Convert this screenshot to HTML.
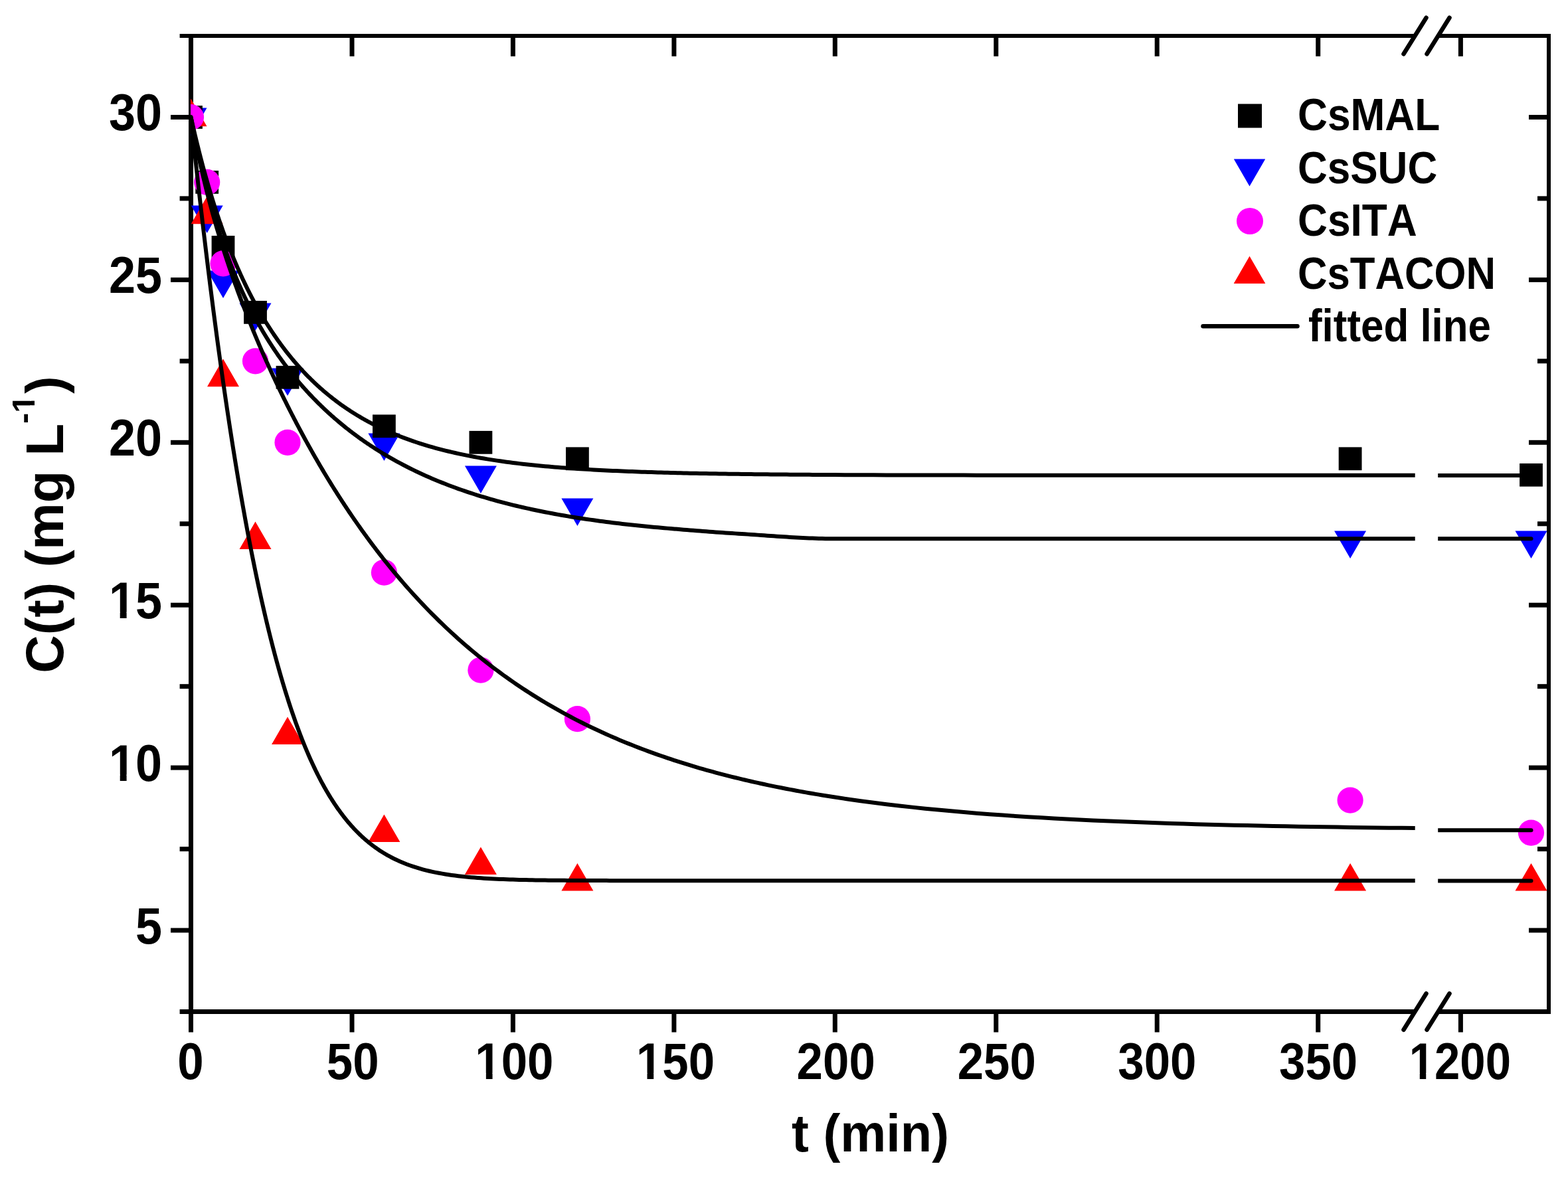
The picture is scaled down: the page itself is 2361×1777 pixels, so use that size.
<!DOCTYPE html><html><head><meta charset="utf-8"><style>html,body{margin:0;padding:0;background:#fff;overflow:hidden}svg{display:block}</style></head><body><svg width="2361" height="1777" viewBox="0 0 2361 1777">
<defs><clipPath id="pc"><rect x="287" y="0" width="2100" height="1777"/></clipPath><clipPath id="s1"><rect x="280" y="0" width="1850.7" height="1777"/></clipPath><clipPath id="s2"><rect x="2165.2" y="0" width="200" height="1777"/></clipPath></defs>
<rect width="2361" height="1777" fill="#fff"/>
<line x1="287.5" y1="51" x2="287.5" y2="1527" stroke="#000" stroke-width="7"/>
<line x1="2332" y1="51" x2="2332" y2="1527" stroke="#000" stroke-width="6"/>
<line x1="271" y1="54" x2="2130.7" y2="54" stroke="#000" stroke-width="6"/>
<line x1="2165.2" y1="54" x2="2335" y2="54" stroke="#000" stroke-width="6"/>
<line x1="271" y1="1523.5" x2="2130.7" y2="1523.5" stroke="#000" stroke-width="7"/>
<line x1="2165.2" y1="1523.5" x2="2335" y2="1523.5" stroke="#000" stroke-width="7"/>
<line x1="257" y1="1401.0" x2="285" y2="1401.0" stroke="#000" stroke-width="7"/>
<line x1="2302" y1="1401.0" x2="2331" y2="1401.0" stroke="#000" stroke-width="7"/>
<line x1="257" y1="1156.1" x2="285" y2="1156.1" stroke="#000" stroke-width="7"/>
<line x1="2302" y1="1156.1" x2="2331" y2="1156.1" stroke="#000" stroke-width="7"/>
<line x1="257" y1="911.2" x2="285" y2="911.2" stroke="#000" stroke-width="7"/>
<line x1="2302" y1="911.2" x2="2331" y2="911.2" stroke="#000" stroke-width="7"/>
<line x1="257" y1="666.3" x2="285" y2="666.3" stroke="#000" stroke-width="7"/>
<line x1="2302" y1="666.3" x2="2331" y2="666.3" stroke="#000" stroke-width="7"/>
<line x1="257" y1="421.4" x2="285" y2="421.4" stroke="#000" stroke-width="7"/>
<line x1="2302" y1="421.4" x2="2331" y2="421.4" stroke="#000" stroke-width="7"/>
<line x1="257" y1="176.5" x2="285" y2="176.5" stroke="#000" stroke-width="7"/>
<line x1="2302" y1="176.5" x2="2331" y2="176.5" stroke="#000" stroke-width="7"/>
<line x1="270.6" y1="1523.5" x2="285" y2="1523.5" stroke="#000" stroke-width="7"/>
<line x1="270.6" y1="1278.6" x2="285" y2="1278.6" stroke="#000" stroke-width="7"/>
<line x1="2315" y1="1278.6" x2="2331" y2="1278.6" stroke="#000" stroke-width="7"/>
<line x1="270.6" y1="1033.7" x2="285" y2="1033.7" stroke="#000" stroke-width="7"/>
<line x1="2315" y1="1033.7" x2="2331" y2="1033.7" stroke="#000" stroke-width="7"/>
<line x1="270.6" y1="788.8" x2="285" y2="788.8" stroke="#000" stroke-width="7"/>
<line x1="2315" y1="788.8" x2="2331" y2="788.8" stroke="#000" stroke-width="7"/>
<line x1="270.6" y1="543.8" x2="285" y2="543.8" stroke="#000" stroke-width="7"/>
<line x1="2315" y1="543.8" x2="2331" y2="543.8" stroke="#000" stroke-width="7"/>
<line x1="270.6" y1="298.9" x2="285" y2="298.9" stroke="#000" stroke-width="7"/>
<line x1="2315" y1="298.9" x2="2331" y2="298.9" stroke="#000" stroke-width="7"/>
<line x1="270.6" y1="54.0" x2="285" y2="54.0" stroke="#000" stroke-width="6"/>
<line x1="287.5" y1="1526" x2="287.5" y2="1554.5" stroke="#000" stroke-width="7"/>
<line x1="530.0" y1="1526" x2="530.0" y2="1554.5" stroke="#000" stroke-width="7"/>
<line x1="530.0" y1="56" x2="530.0" y2="84.8" stroke="#000" stroke-width="7"/>
<line x1="772.4" y1="1526" x2="772.4" y2="1554.5" stroke="#000" stroke-width="7"/>
<line x1="772.4" y1="56" x2="772.4" y2="84.8" stroke="#000" stroke-width="7"/>
<line x1="1014.9" y1="1526" x2="1014.9" y2="1554.5" stroke="#000" stroke-width="7"/>
<line x1="1014.9" y1="56" x2="1014.9" y2="84.8" stroke="#000" stroke-width="7"/>
<line x1="1257.3" y1="1526" x2="1257.3" y2="1554.5" stroke="#000" stroke-width="7"/>
<line x1="1257.3" y1="56" x2="1257.3" y2="84.8" stroke="#000" stroke-width="7"/>
<line x1="1499.8" y1="1526" x2="1499.8" y2="1554.5" stroke="#000" stroke-width="7"/>
<line x1="1499.8" y1="56" x2="1499.8" y2="84.8" stroke="#000" stroke-width="7"/>
<line x1="1742.2" y1="1526" x2="1742.2" y2="1554.5" stroke="#000" stroke-width="7"/>
<line x1="1742.2" y1="56" x2="1742.2" y2="84.8" stroke="#000" stroke-width="7"/>
<line x1="1984.7" y1="1526" x2="1984.7" y2="1554.5" stroke="#000" stroke-width="7"/>
<line x1="1984.7" y1="56" x2="1984.7" y2="84.8" stroke="#000" stroke-width="7"/>
<line x1="2199.4" y1="1526" x2="2199.4" y2="1554.5" stroke="#000" stroke-width="7"/>
<line x1="2199.4" y1="56" x2="2199.4" y2="84.8" stroke="#000" stroke-width="7"/>
<line x1="2113.5" y1="81.3" x2="2147.5" y2="26.7" stroke="#000" stroke-width="6.5" stroke-linecap="round"/>
<line x1="2113.5" y1="1550.8" x2="2147.5" y2="1496.2" stroke="#000" stroke-width="6.5" stroke-linecap="round"/>
<line x1="2148.5" y1="81.3" x2="2182.5" y2="26.7" stroke="#000" stroke-width="6.5" stroke-linecap="round"/>
<line x1="2148.5" y1="1550.8" x2="2182.5" y2="1496.2" stroke="#000" stroke-width="6.5" stroke-linecap="round"/>
<g clip-path="url(#pc)"><polygon points="263.5,162.6 311.5,162.6 287.5,204.2" fill="#00f"/><polygon points="287.7,309.6 335.7,309.6 311.7,351.1" fill="#00f"/><polygon points="312.0,407.5 360.0,407.5 336.0,449.1" fill="#00f"/><polygon points="360.5,456.5 408.5,456.5 384.5,498.1" fill="#00f"/><polygon points="409.0,554.5 457.0,554.5 433.0,596.0" fill="#00f"/><polygon points="554.4,652.4 602.4,652.4 578.4,694.0" fill="#00f"/><polygon points="699.9,701.4 747.9,701.4 723.9,743.0" fill="#00f"/><polygon points="845.4,750.4 893.4,750.4 869.4,792.0" fill="#00f"/><polygon points="2009.1,799.4 2057.1,799.4 2033.1,841.0" fill="#00f"/><polygon points="2281.5,799.4 2329.5,799.4 2305.5,841.0" fill="#00f"/><rect x="270.1" y="159.1" width="34.8" height="34.8" fill="#000"/><rect x="294.3" y="257.0" width="34.8" height="34.8" fill="#000"/><rect x="318.6" y="355.0" width="34.8" height="34.8" fill="#000"/><rect x="367.1" y="453.0" width="34.8" height="34.8" fill="#000"/><rect x="415.6" y="550.9" width="34.8" height="34.8" fill="#000"/><rect x="561.0" y="624.4" width="34.8" height="34.8" fill="#000"/><rect x="706.5" y="648.9" width="34.8" height="34.8" fill="#000"/><rect x="852.0" y="673.4" width="34.8" height="34.8" fill="#000"/><rect x="2015.7" y="673.4" width="34.8" height="34.8" fill="#000"/><rect x="2288.1" y="697.9" width="34.8" height="34.8" fill="#000"/><polygon points="263.5,190.3 311.5,190.3 287.5,148.8" fill="#f00"/><polygon points="287.7,337.3 335.7,337.3 311.7,295.7" fill="#f00"/><polygon points="312.0,582.2 360.0,582.2 336.0,540.6" fill="#f00"/><polygon points="360.5,827.1 408.5,827.1 384.5,785.5" fill="#f00"/><polygon points="409.0,1121.0 457.0,1121.0 433.0,1079.4" fill="#f00"/><polygon points="554.4,1267.9 602.4,1267.9 578.4,1226.4" fill="#f00"/><polygon points="699.9,1316.9 747.9,1316.9 723.9,1275.4" fill="#f00"/><polygon points="845.4,1341.4 893.4,1341.4 869.4,1299.9" fill="#f00"/><polygon points="2009.1,1341.4 2057.1,1341.4 2033.1,1299.9" fill="#f00"/><polygon points="2281.5,1341.4 2329.5,1341.4 2305.5,1299.9" fill="#f00"/><circle cx="287.5" cy="176.5" r="19.6" fill="#f0f"/><circle cx="311.7" cy="274.4" r="19.6" fill="#f0f"/><circle cx="336.0" cy="396.9" r="19.6" fill="#f0f"/><circle cx="384.5" cy="543.8" r="19.6" fill="#f0f"/><circle cx="433.0" cy="666.3" r="19.6" fill="#f0f"/><circle cx="578.4" cy="862.2" r="19.6" fill="#f0f"/><circle cx="723.9" cy="1009.2" r="19.6" fill="#f0f"/><circle cx="869.4" cy="1082.7" r="19.6" fill="#f0f"/><circle cx="2033.1" cy="1205.1" r="19.6" fill="#f0f"/><circle cx="2305.5" cy="1254.1" r="19.6" fill="#f0f"/></g>
<polyline clip-path="url(#s1)" points="287.50,176.31 288.71,181.76 289.92,187.14 291.14,192.44 292.35,197.68 293.56,202.84 294.77,207.94 295.99,212.97 297.20,217.94 298.41,222.84 299.62,227.68 300.83,232.46 302.05,237.18 303.26,241.84 304.47,246.44 305.68,250.98 306.90,255.47 308.11,259.90 309.32,264.27 310.53,268.60 311.75,272.86 312.96,277.08 314.17,281.25 315.38,285.36 316.59,289.43 317.81,293.45 319.02,297.42 320.23,301.34 321.44,305.22 322.66,309.05 323.87,312.84 325.08,316.59 326.29,320.29 327.50,323.95 328.72,327.56 329.93,331.14 331.14,334.67 332.35,338.17 333.57,341.62 334.78,345.04 335.99,348.42 337.20,351.76 338.41,355.06 339.63,358.33 340.84,361.56 342.05,364.76 343.26,367.92 344.48,371.05 345.69,374.14 346.90,377.20 348.11,380.23 349.32,383.23 350.54,386.19 351.75,389.12 352.96,392.02 354.17,394.90 355.39,397.74 356.60,400.55 357.81,403.33 359.02,406.08 360.24,408.81 361.45,411.51 362.66,414.17 363.87,416.82 365.08,419.43 366.30,422.02 367.51,424.58 368.72,427.12 369.93,429.63 371.15,432.12 372.36,434.58 373.57,437.02 374.78,439.43 375.99,441.82 377.21,444.18 378.42,446.52 379.63,448.84 380.84,451.14 382.06,453.41 383.27,455.67 384.48,457.90 385.69,460.11 386.90,462.29 388.12,464.46 389.33,466.61 390.54,468.73 391.75,470.84 392.97,472.92 394.18,474.99 395.39,477.03 396.60,479.06 397.81,481.07 399.03,483.05 400.24,485.02 401.45,486.98 402.66,488.91 403.88,490.82 405.09,492.72 406.30,494.60 407.51,496.46 408.73,498.31 409.94,500.14 411.15,501.95 412.36,503.75 413.57,505.52 414.79,507.29 416.00,509.03 417.21,510.76 418.42,512.48 419.64,514.18 420.85,515.86 422.06,517.53 423.27,519.19 424.48,520.83 425.70,522.45 426.91,524.06 428.12,525.66 429.33,527.24 430.55,528.81 431.76,530.36 432.97,531.90 434.18,533.42 435.39,534.94 436.61,536.44 437.82,537.92 439.03,539.39 440.24,540.85 441.46,542.30 442.67,543.74 443.88,545.16 445.09,546.57 446.30,547.96 447.52,549.35 448.73,550.72 449.94,552.08 451.15,553.43 452.37,554.77 453.58,556.10 454.79,557.41 456.00,558.71 457.22,560.01 458.43,561.29 459.64,562.56 460.85,563.82 462.06,565.06 463.28,566.30 464.49,567.53 465.70,568.74 466.91,569.95 468.13,571.14 469.34,572.33 470.55,573.51 471.76,574.67 472.97,575.83 474.19,576.97 475.40,578.11 476.61,579.23 477.82,580.35 479.04,581.46 480.25,582.56 481.46,583.64 482.67,584.72 483.88,585.79 485.10,586.85 486.31,587.91 487.52,588.95 488.73,589.98 489.95,591.01 491.16,592.03 492.37,593.04 493.58,594.04 494.79,595.03 496.01,596.01 497.22,596.99 498.43,597.96 499.64,598.92 500.86,599.87 502.07,600.81 503.28,601.74 504.49,602.67 505.71,603.59 506.92,604.50 508.13,605.41 509.34,606.31 510.55,607.20 511.77,608.08 512.98,608.95 514.19,609.82 515.40,610.68 516.62,611.54 517.83,612.38 519.04,613.22 520.25,614.05 521.46,614.88 522.68,615.70 523.89,616.51 525.10,617.31 526.31,618.11 527.53,618.91 528.74,619.69 529.95,620.47 531.16,621.24 532.37,622.01 533.59,622.77 534.80,623.52 536.01,624.27 537.22,625.01 538.44,625.75 539.65,626.48 540.86,627.20 542.07,627.92 543.28,628.63 544.50,629.33 545.71,630.03 546.92,630.73 548.13,631.41 549.35,632.10 550.56,632.77 551.77,633.45 552.98,634.11 554.19,634.77 555.41,635.43 556.62,636.08 557.83,636.72 559.04,637.36 560.26,638.00 561.47,638.62 562.68,639.25 563.89,639.87 565.11,640.48 566.32,641.09 567.53,641.69 568.74,642.29 569.95,642.89 571.17,643.47 572.38,644.06 573.59,644.64 574.80,645.21 576.02,645.78 577.23,646.35 578.44,646.91 583.29,649.11 588.14,651.23 592.99,653.29 597.84,655.29 602.68,657.22 607.53,659.08 612.38,660.89 617.23,662.64 622.08,664.33 626.93,665.97 631.78,667.56 636.63,669.10 641.48,670.59 646.33,672.03 651.17,673.42 656.02,674.77 660.87,676.08 665.72,677.34 670.57,678.56 675.42,679.75 680.27,680.90 685.12,682.01 689.97,683.08 694.82,684.13 699.66,685.13 704.51,686.11 709.36,687.06 714.21,687.97 719.06,688.86 723.91,689.71 728.76,690.54 733.61,691.35 738.46,692.13 743.31,692.88 748.15,693.61 753.00,694.32 757.85,695.00 762.70,695.66 767.55,696.30 772.40,696.92 777.25,697.52 782.10,698.11 786.95,698.67 791.80,699.22 796.64,699.74 801.49,700.25 806.34,700.75 811.19,701.23 816.04,701.69 820.89,702.14 825.74,702.58 830.59,703.00 835.44,703.41 840.29,703.80 845.13,704.18 849.98,704.55 854.83,704.91 859.68,705.26 864.53,705.60 869.38,705.92 874.23,706.24 879.08,706.54 883.93,706.84 888.78,707.12 893.62,707.40 898.47,707.67 903.32,707.93 908.17,708.18 913.02,708.42 917.87,708.66 922.72,708.88 927.57,709.10 932.42,709.32 937.27,709.53 942.12,709.73 946.96,709.92 951.81,710.11 956.66,710.29 961.51,710.47 966.36,710.64 971.21,710.80 976.06,710.96 980.91,711.12 985.76,711.27 990.61,711.41 995.45,711.55 1000.30,711.69 1005.15,711.82 1010.00,711.95 1014.85,712.07 1019.70,712.19 1024.55,712.30 1029.40,712.42 1034.25,712.53 1039.10,712.63 1043.94,712.73 1048.79,712.83 1053.64,712.93 1058.49,713.02 1063.34,713.11 1068.19,713.19 1073.04,713.28 1077.89,713.36 1082.74,713.44 1087.59,713.51 1092.43,713.59 1097.28,713.66 1102.13,713.73 1106.98,713.79 1111.83,713.86 1116.68,713.92 1121.53,713.98 1126.38,714.04 1131.23,714.10 1136.08,714.15 1140.92,714.21 1145.77,714.26 1150.62,714.31 1155.47,714.36 1160.32,714.40 1165.17,714.45 1170.02,714.49 1174.87,714.53 1179.72,714.58 1184.57,714.62 1189.41,714.65 1194.26,714.69 1199.11,714.73 1203.96,714.76 1208.81,714.80 1213.66,714.83 1218.51,714.86 1223.36,714.89 1228.21,714.92 1233.06,714.95 1237.90,714.98 1242.75,715.01 1247.60,715.03 1252.45,715.06 1257.30,715.08 1276.70,715.17 1296.09,715.25 1315.49,715.32 1334.88,715.38 1354.28,715.44 1373.68,715.48 1393.07,715.53 1412.47,715.56 1431.86,715.60 1451.26,715.62 1470.66,715.65 1490.05,715.67 1509.45,715.69 1528.84,715.71 1548.24,715.72 1567.64,715.73 1587.03,715.75 1606.43,715.76 1625.82,715.76 1645.22,715.77 1664.62,715.78 1684.01,715.79 1703.41,715.79 1722.80,715.80 1742.20,715.80 1761.60,715.80 1780.99,715.81 1800.39,715.81 1819.78,715.81 1839.18,715.81 1858.58,715.82 1877.97,715.82 1897.37,715.82 1916.76,715.82 1936.16,715.82 1955.56,715.82 1974.95,715.82 1994.35,715.82 2013.74,715.82 2033.14,715.82 2052.54,715.83 2071.93,715.83 2091.33,715.83 2110.72,715.83 2130.12,715.83 2130.60,715.83" fill="none" stroke="#000" stroke-width="6" stroke-linejoin="round" stroke-linecap="round"/>
<line x1="2160" y1="716.0" x2="2305.5" y2="716.0" clip-path="url(#s2)" stroke="#000" stroke-width="6" stroke-linecap="round"/>
<polyline clip-path="url(#s1)" points="287.50,176.30 288.71,182.61 289.92,188.81 291.14,194.92 292.35,200.92 293.56,206.83 294.77,212.65 295.99,218.37 297.20,224.01 298.41,229.55 299.62,235.01 300.83,240.39 302.05,245.68 303.26,250.89 304.47,256.02 305.68,261.08 306.90,266.06 308.11,270.96 309.32,275.79 310.53,280.55 311.75,285.25 312.96,289.87 314.17,294.42 315.38,298.91 316.59,303.34 317.81,307.70 319.02,312.00 320.23,316.24 321.44,320.43 322.66,324.55 323.87,328.62 325.08,332.63 326.29,336.59 327.50,340.49 328.72,344.34 329.93,348.14 331.14,351.89 332.35,355.59 333.57,359.24 334.78,362.85 335.99,366.40 337.20,369.92 338.41,373.38 339.63,376.81 340.84,380.19 342.05,383.53 343.26,386.82 344.48,390.08 345.69,393.30 346.90,396.47 348.11,399.61 349.32,402.71 350.54,405.78 351.75,408.81 352.96,411.80 354.17,414.76 355.39,417.68 356.60,420.57 357.81,423.43 359.02,426.25 360.24,429.05 361.45,431.81 362.66,434.54 363.87,437.24 365.08,439.91 366.30,442.55 367.51,445.16 368.72,447.75 369.93,450.31 371.15,452.84 372.36,455.34 373.57,457.82 374.78,460.27 375.99,462.69 377.21,465.10 378.42,467.47 379.63,469.82 380.84,472.15 382.06,474.46 383.27,476.74 384.48,479.00 385.69,481.24 386.90,483.46 388.12,485.65 389.33,487.82 390.54,489.98 391.75,492.11 392.97,494.22 394.18,496.31 395.39,498.39 396.60,500.44 397.81,502.47 399.03,504.49 400.24,506.49 401.45,508.47 402.66,510.43 403.88,512.37 405.09,514.30 406.30,516.21 407.51,518.10 408.73,519.98 409.94,521.84 411.15,523.69 412.36,525.51 413.57,527.33 414.79,529.12 416.00,530.91 417.21,532.67 418.42,534.43 419.64,536.17 420.85,537.89 422.06,539.60 423.27,541.29 424.48,542.98 425.70,544.64 426.91,546.30 428.12,547.94 429.33,549.57 430.55,551.18 431.76,552.79 432.97,554.38 434.18,555.96 435.39,557.52 436.61,559.08 437.82,560.62 439.03,562.15 440.24,563.67 441.46,565.17 442.67,566.67 443.88,568.15 445.09,569.62 446.30,571.09 447.52,572.54 448.73,573.98 449.94,575.41 451.15,576.83 452.37,578.24 453.58,579.64 454.79,581.03 456.00,582.40 457.22,583.77 458.43,585.13 459.64,586.48 460.85,587.82 462.06,589.15 463.28,590.47 464.49,591.79 465.70,593.09 466.91,594.38 468.13,595.67 469.34,596.94 470.55,598.21 471.76,599.47 472.97,600.72 474.19,601.96 475.40,603.19 476.61,604.42 477.82,605.63 479.04,606.84 480.25,608.04 481.46,609.23 482.67,610.42 483.88,611.60 485.10,612.76 486.31,613.92 487.52,615.08 488.73,616.22 489.95,617.36 491.16,618.49 492.37,619.62 493.58,620.73 494.79,621.84 496.01,622.94 497.22,624.04 498.43,625.12 499.64,626.21 500.86,627.28 502.07,628.35 503.28,629.41 504.49,630.46 505.71,631.51 506.92,632.55 508.13,633.58 509.34,634.61 510.55,635.63 511.77,636.64 512.98,637.65 514.19,638.65 515.40,639.65 516.62,640.64 517.83,641.62 519.04,642.60 520.25,643.57 521.46,644.53 522.68,645.49 523.89,646.45 525.10,647.40 526.31,648.34 527.53,649.27 528.74,650.20 529.95,651.13 531.16,652.05 532.37,652.96 533.59,653.87 534.80,654.77 536.01,655.67 537.22,656.56 538.44,657.45 539.65,658.33 540.86,659.20 542.07,660.07 543.28,660.94 544.50,661.80 545.71,662.65 546.92,663.50 548.13,664.35 549.35,665.19 550.56,666.02 551.77,666.85 552.98,667.68 554.19,668.50 555.41,669.32 556.62,670.13 557.83,670.93 559.04,671.73 560.26,672.53 561.47,673.32 562.68,674.11 563.89,674.89 565.11,675.67 566.32,676.44 567.53,677.21 568.74,677.98 569.95,678.74 571.17,679.49 572.38,680.24 573.59,680.99 574.80,681.73 576.02,682.47 577.23,683.20 578.44,683.93 583.29,686.81 588.14,689.62 592.99,692.37 597.84,695.06 602.68,697.68 607.53,700.25 612.38,702.75 617.23,705.20 622.08,707.60 626.93,709.94 631.78,712.23 636.63,714.47 641.48,716.66 646.33,718.80 651.17,720.90 656.02,722.94 660.87,724.94 665.72,726.90 670.57,728.82 675.42,730.69 680.27,732.52 685.12,734.31 689.97,736.06 694.82,737.77 699.66,739.44 704.51,741.08 709.36,742.68 714.21,744.25 719.06,745.78 723.91,747.28 728.76,748.74 733.61,750.17 738.46,751.57 743.31,752.94 748.15,754.29 753.00,755.60 757.85,756.88 762.70,758.13 767.55,759.36 772.40,760.56 777.25,761.73 782.10,762.88 786.95,764.00 791.80,765.10 796.64,766.18 801.49,767.23 806.34,768.25 811.19,769.26 816.04,770.24 820.89,771.20 825.74,772.14 830.59,773.06 835.44,773.96 840.29,774.84 845.13,775.71 849.98,776.55 854.83,777.37 859.68,778.18 864.53,778.97 869.38,779.74 874.23,780.49 879.08,781.23 883.93,781.95 888.78,782.65 893.62,783.34 898.47,784.02 903.32,784.68 908.17,785.33 913.02,785.96 917.87,786.58 922.72,787.18 927.57,787.77 932.42,788.35 937.27,788.91 942.12,789.47 946.96,790.01 951.81,790.54 956.66,791.06 961.51,791.56 966.36,792.06 971.21,792.54 976.06,793.02 980.91,793.48 985.76,793.91 990.61,794.34 995.45,794.77 1000.30,795.20 1005.15,795.62 1010.00,796.03 1014.85,796.45 1019.70,796.85 1024.55,797.26 1029.40,797.66 1034.25,798.05 1039.10,798.44 1043.94,798.83 1048.79,799.21 1053.64,799.59 1058.49,799.96 1063.34,800.33 1068.19,800.69 1073.04,801.05 1077.89,801.40 1082.74,801.74 1087.59,802.08 1092.43,802.42 1097.28,802.75 1102.13,803.07 1106.98,803.38 1111.83,803.70 1116.68,804.00 1121.53,804.31 1126.38,804.63 1131.23,804.95 1136.08,805.29 1140.92,805.62 1145.77,805.96 1150.62,806.30 1155.47,806.64 1160.32,806.98 1165.17,807.32 1170.02,807.65 1174.87,807.98 1179.72,808.30 1184.57,808.61 1189.41,808.91 1194.26,809.20 1199.11,809.48 1203.96,809.74 1208.81,809.99 1213.66,810.22 1218.51,810.43 1223.36,810.62 1228.21,810.79 1233.06,810.94 1237.90,811.06 1242.75,811.16 1247.60,811.23 1252.45,811.27 1257.30,811.29 1276.70,811.29 1296.09,811.29 1315.49,811.29 1334.88,811.29 1354.28,811.29 1373.68,811.29 1393.07,811.29 1412.47,811.29 1431.86,811.29 1451.26,811.29 1470.66,811.29 1490.05,811.29 1509.45,811.29 1528.84,811.29 1548.24,811.29 1567.64,811.29 1587.03,811.29 1606.43,811.29 1625.82,811.29 1645.22,811.29 1664.62,811.29 1684.01,811.29 1703.41,811.29 1722.80,811.29 1742.20,811.29 1761.60,811.29 1780.99,811.29 1800.39,811.29 1819.78,811.29 1839.18,811.29 1858.58,811.29 1877.97,811.29 1897.37,811.29 1916.76,811.29 1936.16,811.29 1955.56,811.29 1974.95,811.29 1994.35,811.29 2013.74,811.29 2033.14,811.29 2052.54,811.29 2071.93,811.29 2091.33,811.29 2110.72,811.29 2130.12,811.29 2130.60,811.29" fill="none" stroke="#000" stroke-width="6" stroke-linejoin="round" stroke-linecap="round"/>
<line x1="2160" y1="811.2" x2="2305.5" y2="811.2" clip-path="url(#s2)" stroke="#000" stroke-width="6" stroke-linecap="round"/>
<polyline clip-path="url(#s1)" points="287.50,177.41 288.71,184.03 289.92,190.53 291.14,196.90 292.35,203.15 293.56,209.28 294.77,215.30 295.99,221.21 297.20,227.02 298.41,232.72 299.62,238.33 300.83,243.84 302.05,249.27 303.26,254.60 304.47,259.86 305.68,265.03 306.90,270.12 308.11,275.14 309.32,280.08 310.53,284.95 311.75,289.76 312.96,294.50 314.17,299.17 315.38,303.78 316.59,308.34 317.81,312.83 319.02,317.27 320.23,321.65 321.44,325.98 322.66,330.27 323.87,334.50 325.08,338.68 326.29,342.82 327.50,346.91 328.72,350.96 329.93,354.97 331.14,358.94 332.35,362.86 333.57,366.75 334.78,370.60 335.99,374.42 337.20,378.19 338.41,381.94 339.63,385.65 340.84,389.33 342.05,392.98 343.26,396.59 344.48,400.18 345.69,403.74 346.90,407.26 348.11,410.76 349.32,414.24 350.54,417.69 351.75,421.11 352.96,424.50 354.17,427.88 355.39,431.22 356.60,434.55 357.81,437.85 359.02,441.13 360.24,444.39 361.45,447.62 362.66,450.84 363.87,454.03 365.08,457.21 366.30,460.36 367.51,463.50 368.72,466.61 369.93,469.71 371.15,472.79 372.36,475.85 373.57,478.90 374.78,481.92 375.99,484.93 377.21,487.93 378.42,490.90 379.63,493.86 380.84,496.81 382.06,499.74 383.27,502.65 384.48,505.55 385.69,508.43 386.90,511.30 388.12,514.16 389.33,517.00 390.54,519.82 391.75,522.64 392.97,525.44 394.18,528.22 395.39,530.99 396.60,533.75 397.81,536.50 399.03,539.23 400.24,541.95 401.45,544.66 402.66,547.35 403.88,550.04 405.09,552.71 406.30,555.37 407.51,558.02 408.73,560.65 409.94,563.27 411.15,565.89 412.36,568.49 413.57,571.08 414.79,573.66 416.00,576.22 417.21,578.78 418.42,581.32 419.64,583.86 420.85,586.38 422.06,588.90 423.27,591.40 424.48,593.89 425.70,596.37 426.91,598.84 428.12,601.31 429.33,603.76 430.55,606.20 431.76,608.63 432.97,611.05 434.18,613.46 435.39,615.86 436.61,618.26 437.82,620.64 439.03,623.01 440.24,625.38 441.46,627.73 442.67,630.07 443.88,632.41 445.09,634.73 446.30,637.05 447.52,639.36 448.73,641.66 449.94,643.95 451.15,646.23 452.37,648.50 453.58,650.76 454.79,653.01 456.00,655.26 457.22,657.50 458.43,659.72 459.64,661.94 460.85,664.15 462.06,666.35 463.28,668.55 464.49,670.73 465.70,672.91 466.91,675.07 468.13,677.23 469.34,679.38 470.55,681.53 471.76,683.66 472.97,685.79 474.19,687.91 475.40,690.02 476.61,692.12 477.82,694.21 479.04,696.30 480.25,698.38 481.46,700.45 482.67,702.51 483.88,704.56 485.10,706.61 486.31,708.65 487.52,710.68 488.73,712.70 489.95,714.72 491.16,716.72 492.37,718.72 493.58,720.72 494.79,722.70 496.01,724.68 497.22,726.65 498.43,728.61 499.64,730.57 500.86,732.51 502.07,734.46 503.28,736.39 504.49,738.31 505.71,740.23 506.92,742.14 508.13,744.05 509.34,745.94 510.55,747.83 511.77,749.72 512.98,751.59 514.19,753.46 515.40,755.32 516.62,757.18 517.83,759.02 519.04,760.86 520.25,762.70 521.46,764.52 522.68,766.34 523.89,768.16 525.10,769.96 526.31,771.76 527.53,773.55 528.74,775.34 529.95,777.12 531.16,778.89 532.37,780.66 533.59,782.41 534.80,784.17 536.01,785.91 537.22,787.65 538.44,789.38 539.65,791.11 540.86,792.83 542.07,794.54 543.28,796.25 544.50,797.95 545.71,799.64 546.92,801.33 548.13,803.01 549.35,804.69 550.56,806.36 551.77,808.02 552.98,809.68 554.19,811.33 555.41,812.97 556.62,814.61 557.83,816.24 559.04,817.86 560.26,819.48 561.47,821.10 562.68,822.70 563.89,824.31 565.11,825.90 566.32,827.49 567.53,829.07 568.74,830.65 569.95,832.22 571.17,833.79 572.38,835.35 573.59,836.90 574.80,838.45 576.02,839.99 577.23,841.53 578.44,843.06 583.29,849.12 588.14,855.10 592.99,860.98 597.84,866.78 602.68,872.49 607.53,878.12 612.38,883.66 617.23,889.12 622.08,894.50 626.93,899.80 631.78,905.02 636.63,910.17 641.48,915.23 646.33,920.22 651.17,925.14 656.02,929.98 660.87,934.75 665.72,939.45 670.57,944.08 675.42,948.64 680.27,953.14 685.12,957.56 689.97,961.92 694.82,966.22 699.66,970.45 704.51,974.62 709.36,978.72 714.21,982.77 719.06,986.75 723.91,990.68 728.76,994.55 733.61,998.35 738.46,1002.11 743.31,1005.80 748.15,1009.45 753.00,1013.03 757.85,1016.57 762.70,1020.05 767.55,1023.48 772.40,1026.86 777.25,1030.19 782.10,1033.47 786.95,1036.70 791.80,1039.88 796.64,1043.01 801.49,1046.10 806.34,1049.14 811.19,1052.14 816.04,1055.09 820.89,1058.00 825.74,1060.86 830.59,1063.69 835.44,1066.47 840.29,1069.21 845.13,1071.90 849.98,1074.56 854.83,1077.18 859.68,1079.76 864.53,1082.30 869.38,1084.80 874.23,1087.27 879.08,1089.70 883.93,1092.09 888.78,1094.45 893.62,1096.77 898.47,1099.06 903.32,1101.31 908.17,1103.53 913.02,1105.72 917.87,1107.87 922.72,1110.00 927.57,1112.09 932.42,1114.15 937.27,1116.17 942.12,1118.17 946.96,1120.14 951.81,1122.08 956.66,1123.99 961.51,1125.87 966.36,1127.73 971.21,1129.56 976.06,1131.36 980.91,1133.13 985.76,1134.87 990.61,1136.59 995.45,1138.29 1000.30,1139.96 1005.15,1141.60 1010.00,1143.22 1014.85,1144.82 1019.70,1146.39 1024.55,1147.94 1029.40,1149.47 1034.25,1150.97 1039.10,1152.45 1043.94,1153.91 1048.79,1155.35 1053.64,1156.76 1058.49,1158.16 1063.34,1159.53 1068.19,1160.88 1073.04,1162.22 1077.89,1163.53 1082.74,1164.82 1087.59,1166.10 1092.43,1167.35 1097.28,1168.59 1102.13,1169.81 1106.98,1171.01 1111.83,1172.19 1116.68,1173.36 1121.53,1174.50 1126.38,1175.63 1131.23,1176.75 1136.08,1177.84 1140.92,1178.92 1145.77,1179.99 1150.62,1181.04 1155.47,1182.07 1160.32,1183.09 1165.17,1184.09 1170.02,1185.08 1174.87,1186.05 1179.72,1187.01 1184.57,1187.95 1189.41,1188.88 1194.26,1189.80 1199.11,1190.70 1203.96,1191.59 1208.81,1192.47 1213.66,1193.33 1218.51,1194.18 1223.36,1195.02 1228.21,1195.84 1233.06,1196.66 1237.90,1197.46 1242.75,1198.24 1247.60,1199.02 1252.45,1199.79 1257.30,1200.54 1276.70,1203.45 1296.09,1206.18 1315.49,1208.76 1334.88,1211.18 1354.28,1213.47 1373.68,1215.62 1393.07,1217.65 1412.47,1219.56 1431.86,1221.35 1451.26,1223.05 1470.66,1224.64 1490.05,1226.14 1509.45,1227.56 1528.84,1228.89 1548.24,1230.14 1567.64,1231.32 1587.03,1232.44 1606.43,1233.48 1625.82,1234.47 1645.22,1235.40 1664.62,1236.27 1684.01,1237.10 1703.41,1237.87 1722.80,1238.61 1742.20,1239.29 1761.60,1239.94 1780.99,1240.55 1800.39,1241.13 1819.78,1241.67 1839.18,1242.18 1858.58,1242.66 1877.97,1243.11 1897.37,1243.54 1916.76,1243.94 1936.16,1244.32 1955.56,1244.67 1974.95,1245.01 1994.35,1245.32 2013.74,1245.62 2033.14,1245.90 2052.54,1246.16 2071.93,1246.41 2091.33,1246.64 2110.72,1246.86 2130.12,1247.07 2130.60,1247.08" fill="none" stroke="#000" stroke-width="6" stroke-linejoin="round" stroke-linecap="round"/>
<line x1="2160" y1="1250.3" x2="2305.5" y2="1250.3" clip-path="url(#s2)" stroke="#000" stroke-width="6" stroke-linecap="round"/>
<polyline clip-path="url(#s1)" points="287.50,177.15 288.71,188.58 289.92,199.94 291.14,211.21 292.35,222.41 293.56,233.53 294.77,244.58 295.99,255.55 297.20,266.44 298.41,277.25 299.62,287.99 300.83,298.65 302.05,309.23 303.26,319.74 304.47,330.17 305.68,340.53 306.90,350.81 308.11,361.01 309.32,371.14 310.53,381.19 311.75,391.16 312.96,401.07 314.17,410.89 315.38,420.64 316.59,430.32 317.81,439.92 319.02,449.44 320.23,458.90 321.44,468.27 322.66,477.58 323.87,486.81 325.08,495.97 326.29,505.05 327.50,514.06 328.72,523.00 329.93,531.86 331.14,540.65 332.35,549.38 333.57,558.02 334.78,566.60 335.99,575.11 337.20,583.54 338.41,591.90 339.63,600.20 340.84,608.42 342.05,616.57 343.26,624.65 344.48,632.66 345.69,640.61 346.90,648.48 348.11,656.29 349.32,664.02 350.54,671.69 351.75,679.29 352.96,686.83 354.17,694.29 355.39,701.69 356.60,709.02 357.81,716.29 359.02,723.49 360.24,730.63 361.45,737.69 362.66,744.70 363.87,751.64 365.08,758.51 366.30,765.32 367.51,772.07 368.72,778.75 369.93,785.37 371.15,791.93 372.36,798.43 373.57,804.86 374.78,811.23 375.99,817.54 377.21,823.79 378.42,829.98 379.63,836.11 380.84,842.17 382.06,848.18 383.27,854.13 384.48,860.02 385.69,865.85 386.90,871.63 388.12,877.34 389.33,883.00 390.54,888.60 391.75,894.14 392.97,899.63 394.18,905.06 395.39,910.44 396.60,915.76 397.81,921.02 399.03,926.23 400.24,931.39 401.45,936.49 402.66,941.54 403.88,946.54 405.09,951.48 406.30,956.37 407.51,961.21 408.73,966.00 409.94,970.73 411.15,975.42 412.36,980.05 413.57,984.64 414.79,989.17 416.00,993.66 417.21,998.09 418.42,1002.48 419.64,1006.82 420.85,1011.11 422.06,1015.36 423.27,1019.55 424.48,1023.70 425.70,1027.80 426.91,1031.86 428.12,1035.87 429.33,1039.84 430.55,1043.76 431.76,1047.63 432.97,1051.47 434.18,1055.25 435.39,1059.00 436.61,1062.70 437.82,1066.36 439.03,1069.97 440.24,1073.55 441.46,1077.08 442.67,1080.57 443.88,1084.02 445.09,1087.43 446.30,1090.80 447.52,1094.12 448.73,1097.41 449.94,1100.66 451.15,1103.87 452.37,1107.04 453.58,1110.18 454.79,1113.27 456.00,1116.33 457.22,1119.35 458.43,1122.34 459.64,1125.28 460.85,1128.19 462.06,1131.07 463.28,1133.91 464.49,1136.71 465.70,1139.48 466.91,1142.22 468.13,1144.92 469.34,1147.59 470.55,1150.22 471.76,1152.82 472.97,1155.39 474.19,1157.92 475.40,1160.43 476.61,1162.90 477.82,1165.34 479.04,1167.74 480.25,1170.12 481.46,1172.47 482.67,1174.78 483.88,1177.07 485.10,1179.33 486.31,1181.55 487.52,1183.75 488.73,1185.92 489.95,1188.06 491.16,1190.17 492.37,1192.25 493.58,1194.31 494.79,1196.34 496.01,1198.34 497.22,1200.32 498.43,1202.26 499.64,1204.19 500.86,1206.08 502.07,1207.95 503.28,1209.80 504.49,1211.62 505.71,1213.41 506.92,1215.19 508.13,1216.93 509.34,1218.66 510.55,1220.35 511.77,1222.03 512.98,1223.68 514.19,1225.31 515.40,1226.92 516.62,1228.50 517.83,1230.06 519.04,1231.60 520.25,1233.12 521.46,1234.62 522.68,1236.10 523.89,1237.55 525.10,1238.99 526.31,1240.40 527.53,1241.79 528.74,1243.17 529.95,1244.52 531.16,1245.86 532.37,1247.17 533.59,1248.47 534.80,1249.75 536.01,1251.00 537.22,1252.25 538.44,1253.47 539.65,1254.67 540.86,1255.86 542.07,1257.03 543.28,1258.18 544.50,1259.32 545.71,1260.44 546.92,1261.54 548.13,1262.62 549.35,1263.69 550.56,1264.75 551.77,1265.78 552.98,1266.80 554.19,1267.81 555.41,1268.80 556.62,1269.78 557.83,1270.74 559.04,1271.69 560.26,1272.62 561.47,1273.54 562.68,1274.44 563.89,1275.33 565.11,1276.21 566.32,1277.07 567.53,1277.92 568.74,1278.76 569.95,1279.58 571.17,1280.39 572.38,1281.19 573.59,1281.98 574.80,1282.75 576.02,1283.51 577.23,1284.26 578.44,1285.00 583.29,1287.83 588.14,1290.49 592.99,1292.98 597.84,1295.32 602.68,1297.50 607.53,1299.55 612.38,1301.46 617.23,1303.24 622.08,1304.91 626.93,1306.47 631.78,1307.92 636.63,1309.28 641.48,1310.54 646.33,1311.72 651.17,1312.81 656.02,1313.83 660.87,1314.78 665.72,1315.66 670.57,1316.47 675.42,1317.23 680.27,1317.94 685.12,1318.59 689.97,1319.19 694.82,1319.75 699.66,1320.27 704.51,1320.75 709.36,1321.20 714.21,1321.61 719.06,1321.98 723.91,1322.33 728.76,1322.66 733.61,1322.95 738.46,1323.23 743.31,1323.48 748.15,1323.71 753.00,1323.93 757.85,1324.12 762.70,1324.30 767.55,1324.47 772.40,1324.62 777.25,1324.76 782.10,1324.89 786.95,1325.01 791.80,1325.12 796.64,1325.21 801.49,1325.30 806.34,1325.39 811.19,1325.46 816.04,1325.53 820.89,1325.59 825.74,1325.65 830.59,1325.70 835.44,1325.75 840.29,1325.79 845.13,1325.83 849.98,1325.87 854.83,1325.90 859.68,1325.93 864.53,1325.96 869.38,1325.98 874.23,1326.01 879.08,1326.03 883.93,1326.04 888.78,1326.06 893.62,1326.08 898.47,1326.09 903.32,1326.10 908.17,1326.11 913.02,1326.12 917.87,1326.13 922.72,1326.14 927.57,1326.15 932.42,1326.15 937.27,1326.16 942.12,1326.17 946.96,1326.17 951.81,1326.18 956.66,1326.18 961.51,1326.18 966.36,1326.19 971.21,1326.19 976.06,1326.19 980.91,1326.19 985.76,1326.20 990.61,1326.20 995.45,1326.20 1000.30,1326.20 1005.15,1326.20 1010.00,1326.20 1014.85,1326.20 1019.70,1326.21 1024.55,1326.21 1029.40,1326.21 1034.25,1326.21 1039.10,1326.21 1043.94,1326.21 1048.79,1326.21 1053.64,1326.21 1058.49,1326.21 1063.34,1326.21 1068.19,1326.21 1073.04,1326.21 1077.89,1326.21 1082.74,1326.21 1087.59,1326.21 1092.43,1326.21 1097.28,1326.21 1102.13,1326.21 1106.98,1326.21 1111.83,1326.21 1116.68,1326.21 1121.53,1326.21 1126.38,1326.21 1131.23,1326.21 1136.08,1326.21 1140.92,1326.21 1145.77,1326.21 1150.62,1326.21 1155.47,1326.21 1160.32,1326.21 1165.17,1326.21 1170.02,1326.21 1174.87,1326.21 1179.72,1326.21 1184.57,1326.21 1189.41,1326.21 1194.26,1326.21 1199.11,1326.21 1203.96,1326.21 1208.81,1326.21 1213.66,1326.21 1218.51,1326.21 1223.36,1326.21 1228.21,1326.21 1233.06,1326.21 1237.90,1326.21 1242.75,1326.21 1247.60,1326.21 1252.45,1326.21 1257.30,1326.21 1276.70,1326.21 1296.09,1326.21 1315.49,1326.21 1334.88,1326.21 1354.28,1326.21 1373.68,1326.21 1393.07,1326.21 1412.47,1326.21 1431.86,1326.21 1451.26,1326.21 1470.66,1326.21 1490.05,1326.21 1509.45,1326.21 1528.84,1326.21 1548.24,1326.21 1567.64,1326.21 1587.03,1326.21 1606.43,1326.21 1625.82,1326.21 1645.22,1326.21 1664.62,1326.21 1684.01,1326.21 1703.41,1326.21 1722.80,1326.21 1742.20,1326.21 1761.60,1326.21 1780.99,1326.21 1800.39,1326.21 1819.78,1326.21 1839.18,1326.21 1858.58,1326.21 1877.97,1326.21 1897.37,1326.21 1916.76,1326.21 1936.16,1326.21 1955.56,1326.21 1974.95,1326.21 1994.35,1326.21 2013.74,1326.21 2033.14,1326.21 2052.54,1326.21 2071.93,1326.21 2091.33,1326.21 2110.72,1326.21 2130.12,1326.21 2130.60,1326.21" fill="none" stroke="#000" stroke-width="6" stroke-linejoin="round" stroke-linecap="round"/>
<line x1="2160" y1="1326.4" x2="2305.5" y2="1326.4" clip-path="url(#s2)" stroke="#000" stroke-width="6" stroke-linecap="round"/>
<g transform="translate(244.00,1420.84) scale(0.935,1)"><text x="-42.82" y="0" font-size="77" font-family="Liberation Sans, Arial, sans-serif" font-weight="bold" style="font-kerning:none">5</text></g>
<g transform="translate(244.00,1175.93) scale(0.935,1)"><text x="-85.65" y="0" font-size="77" font-family="Liberation Sans, Arial, sans-serif" font-weight="bold" style="font-kerning:none">10</text><rect x="-82.30" y="-9.36" width="14.62" height="10.86" fill="#fff"/><rect x="-57.11" y="-9.36" width="13.64" height="10.86" fill="#fff"/></g>
<g transform="translate(244.00,931.01) scale(0.935,1)"><text x="-85.65" y="0" font-size="77" font-family="Liberation Sans, Arial, sans-serif" font-weight="bold" style="font-kerning:none">15</text><rect x="-82.30" y="-9.36" width="14.62" height="10.86" fill="#fff"/><rect x="-57.11" y="-9.36" width="13.64" height="10.86" fill="#fff"/></g>
<g transform="translate(244.00,686.10) scale(0.935,1)"><text x="-85.65" y="0" font-size="77" font-family="Liberation Sans, Arial, sans-serif" font-weight="bold" style="font-kerning:none">20</text></g>
<g transform="translate(244.00,441.18) scale(0.935,1)"><text x="-85.65" y="0" font-size="77" font-family="Liberation Sans, Arial, sans-serif" font-weight="bold" style="font-kerning:none">25</text></g>
<g transform="translate(244.00,196.27) scale(0.935,1)"><text x="-85.65" y="0" font-size="77" font-family="Liberation Sans, Arial, sans-serif" font-weight="bold" style="font-kerning:none">30</text></g>
<g transform="translate(287.00,1625.30) scale(0.92,1)"><text x="-21.41" y="0" font-size="77" font-family="Liberation Sans, Arial, sans-serif" font-weight="bold" style="font-kerning:none">0</text></g>
<g transform="translate(531.15,1625.30) scale(0.92,1)"><text x="-42.82" y="0" font-size="77" font-family="Liberation Sans, Arial, sans-serif" font-weight="bold" style="font-kerning:none">50</text></g>
<g transform="translate(774.40,1625.30) scale(0.92,1)"><text x="-64.24" y="0" font-size="77" font-family="Liberation Sans, Arial, sans-serif" font-weight="bold" style="font-kerning:none">100</text><rect x="-60.89" y="-9.36" width="14.62" height="10.86" fill="#fff"/><rect x="-35.70" y="-9.36" width="13.64" height="10.86" fill="#fff"/></g>
<g transform="translate(1017.05,1625.30) scale(0.92,1)"><text x="-64.24" y="0" font-size="77" font-family="Liberation Sans, Arial, sans-serif" font-weight="bold" style="font-kerning:none">150</text><rect x="-60.89" y="-9.36" width="14.62" height="10.86" fill="#fff"/><rect x="-35.70" y="-9.36" width="13.64" height="10.86" fill="#fff"/></g>
<g transform="translate(1258.70,1625.30) scale(0.92,1)"><text x="-64.24" y="0" font-size="77" font-family="Liberation Sans, Arial, sans-serif" font-weight="bold" style="font-kerning:none">200</text></g>
<g transform="translate(1500.75,1625.30) scale(0.92,1)"><text x="-64.24" y="0" font-size="77" font-family="Liberation Sans, Arial, sans-serif" font-weight="bold" style="font-kerning:none">250</text></g>
<g transform="translate(1742.40,1625.30) scale(0.92,1)"><text x="-64.24" y="0" font-size="77" font-family="Liberation Sans, Arial, sans-serif" font-weight="bold" style="font-kerning:none">300</text></g>
<g transform="translate(1985.15,1625.30) scale(0.92,1)"><text x="-64.24" y="0" font-size="77" font-family="Liberation Sans, Arial, sans-serif" font-weight="bold" style="font-kerning:none">350</text></g>
<g transform="translate(2198.35,1625.30) scale(0.895,1)"><text x="-85.65" y="0" font-size="77" font-family="Liberation Sans, Arial, sans-serif" font-weight="bold" style="font-kerning:none">1200</text><rect x="-82.30" y="-9.36" width="14.62" height="10.86" fill="#fff"/><rect x="-57.11" y="-9.36" width="13.64" height="10.86" fill="#fff"/></g>
<g transform="translate(1310.50,1734.10) scale(0.97,1)"><text x="-122.19" y="0" font-size="80" font-family="Liberation Sans, Arial, sans-serif" font-weight="bold" style="font-kerning:none">t (min)</text></g>
<g transform="translate(95.1,790.9) rotate(-90) scale(0.995,1)"><text x="-223.93" y="0" font-size="80" font-family="Liberation Sans, Arial, sans-serif" font-weight="bold" style="font-kerning:none">C(t) (mg L<tspan font-size="49" dy="-43">-1</tspan><tspan dy="43" dx="2">)</tspan></text><rect x="171.63" y="-49.50" width="9.85" height="8.00" fill="#fff"/><rect x="188.20" y="-49.50" width="9.23" height="8.00" fill="#fff"/></g>
<rect x="1864.0" y="156.5" width="36" height="36" fill="#000"/><polygon points="1857.8,239.5 1905.2,239.5 1881.5,280.6" fill="#00f"/><circle cx="1882.0" cy="333.0" r="20" fill="#f0f"/><polygon points="1857.7,426.9 1905.3,426.9 1881.5,385.7" fill="#f00"/>
<line x1="1811.5" y1="491.3" x2="1953.5" y2="491.3" stroke="#000" stroke-width="6.5" stroke-linecap="round"/>
<g transform="translate(1954.00,196.10) scale(0.915,1)"><text x="0.00" y="0" font-size="68" font-family="Liberation Sans, Arial, sans-serif" font-weight="bold" style="font-kerning:none">CsMAL</text></g>
<g transform="translate(1954.00,276.00) scale(0.912,1)"><text x="0.00" y="0" font-size="68" font-family="Liberation Sans, Arial, sans-serif" font-weight="bold" style="font-kerning:none">CsSUC</text></g>
<g transform="translate(1954.00,355.10) scale(0.915,1)"><text x="0.00" y="0" font-size="68" font-family="Liberation Sans, Arial, sans-serif" font-weight="bold" style="font-kerning:none">CsITA</text></g>
<g transform="translate(1954.00,434.70) scale(0.907,1)"><text x="0.00" y="0" font-size="68" font-family="Liberation Sans, Arial, sans-serif" font-weight="bold" style="font-kerning:none">CsTACON</text></g>
<g transform="translate(1970.00,513.70) scale(0.91,1)"><text x="0.00" y="0" font-size="68" font-family="Liberation Sans, Arial, sans-serif" font-weight="bold" style="font-kerning:none">fitted line</text></g>
</svg></body></html>
